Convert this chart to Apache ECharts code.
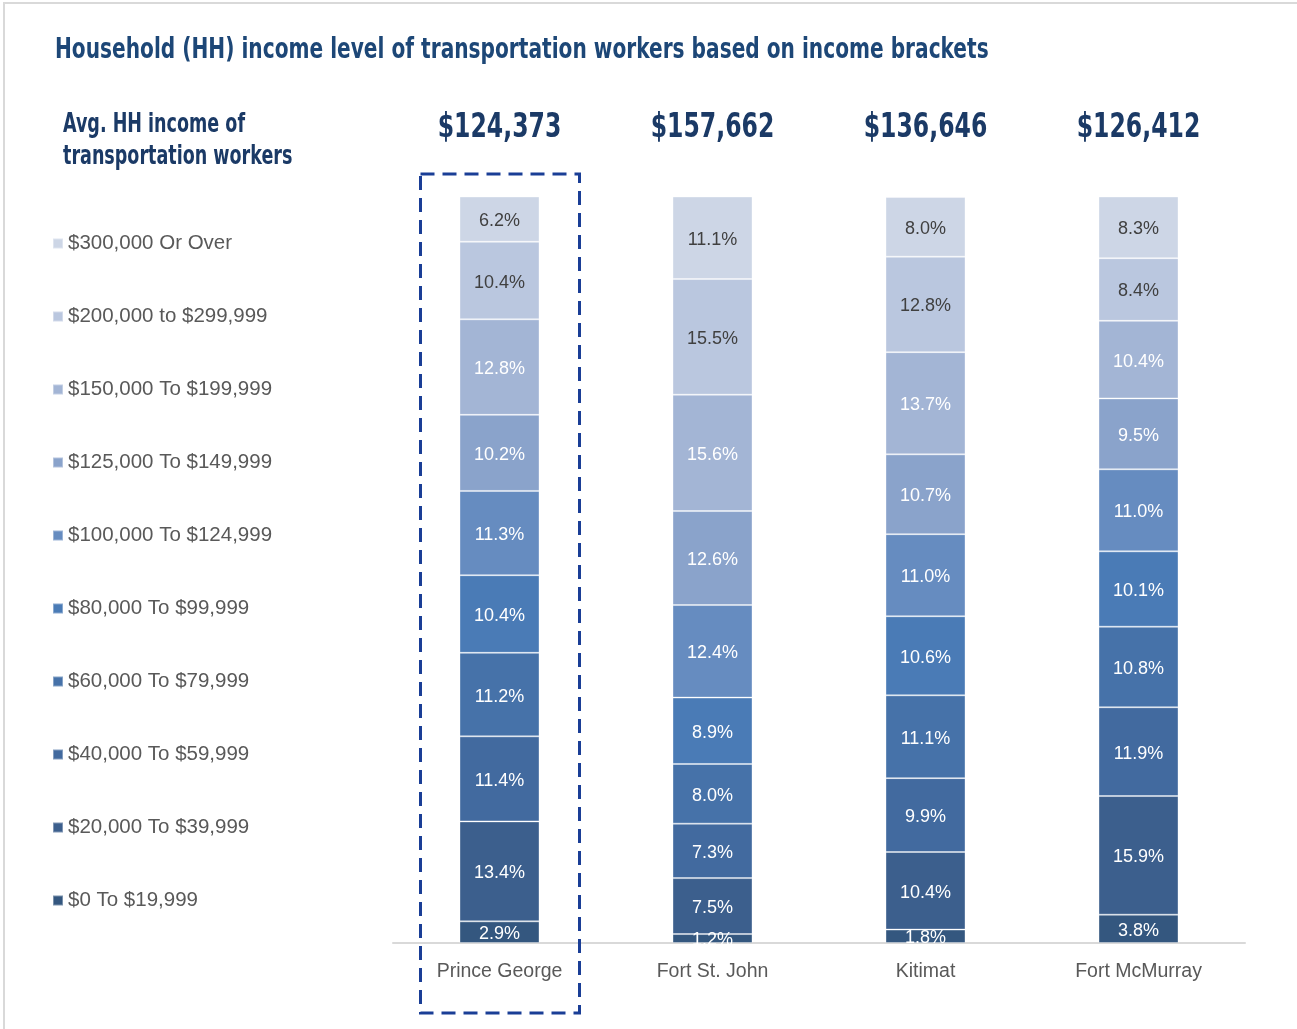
<!DOCTYPE html>
<html>
<head>
<meta charset="utf-8">
<script src="https://cdn.jsdelivr.net/npm/echarts@6/dist/echarts.min.js"></script>
<style>
  html, body { margin: 0; padding: 0; background: #fff; }
  #chart { width: 1297px; height: 1029px; }
</style>
</head>
<body>
<div id="chart"></div>
<script>
// towns along the x axis
var towns = ['Prince George', 'Fort St. John', 'Kitimat', 'Fort McMurray'];
// avg HH income shown above each bar
var avgIncome = ['$124,373', '$157,662', '$136,646', '$126,412'];

// income brackets, bottom of the stack first
var brackets = [
  '$0 To $19,999',
  '$20,000 To $39,999',
  '$40,000 To $59,999',
  '$60,000 To $79,999',
  '$80,000 To $99,999',
  '$100,000 To $124,999',
  '$125,000 To $149,999',
  '$150,000 To $199,999',
  '$200,000 to $299,999',
  '$300,000 Or Over'
];

// share (%) per bracket, order = towns
var b0   = [2.9, 1.2, 1.8, 3.8];
var b20  = [13.4, 7.5, 10.4, 15.9];
var b40  = [11.4, 7.3, 9.9, 11.9];
var b60  = [11.2, 8.0, 11.1, 10.8];
var b80  = [10.4, 8.9, 10.6, 10.1];
var b100 = [11.3, 12.4, 11.0, 11.0];
var b125 = [10.2, 12.6, 10.7, 9.5];
var b150 = [12.8, 15.6, 13.7, 10.4];
var b200 = [10.4, 15.5, 12.8, 8.4];
var b300 = [6.2, 11.1, 8.0, 8.3];

var values = [b0, b20, b40, b60, b80, b100, b125, b150, b200, b300];

var colors = ['#34577f', '#3c5f8d', '#426a9f', '#4672a9', '#4a7bb6',
              '#668cc0', '#8aa3cb', '#a3b5d5', '#bac7df', '#cdd6e6'];

var labelFont = '"Liberation Sans", Arial, sans-serif';
var condFont = '"DejaVu Sans Condensed", "DejaVu Sans", sans-serif';

var myChart = echarts.init(document.getElementById('chart'));

var series = brackets.map(function (name, i) {
  return {
    name: name,
    type: 'bar',
    stack: 'total',
    barWidth: 80,
    data: values[i],
    itemStyle: {
      color: colors[i],
      borderColor: 'rgba(255,255,255,0.35)',
      borderWidth: 1
    },
    label: {
      show: true,
      position: 'inside',
      offset: [0, 2],
      formatter: function (p) { return p.value.toFixed(1) + '%'; },
      color: i >= 8 ? '#404040' : '#ffffff',
      fontFamily: labelFont,
      fontSize: 18
    }
  };
});

var option = {
  animation: false,
  color: colors,
  legend: {
    orient: 'vertical',
    left: 47,
    top: 228,
    icon: 'rect',
    itemWidth: 10,
    itemHeight: 10,
    itemGap: 52,
    data: brackets.slice().reverse(),
    textStyle: { fontFamily: labelFont, fontSize: 20.5, color: '#595959', lineHeight: 20 },
    selectedMode: false
  },
  grid: { left: 393, right: 52, top: 197, bottom: 86 },
  xAxis: {
    type: 'category',
    data: towns,
    axisLine: { lineStyle: { color: '#d9d9d9', width: 2 } },
    axisTick: { show: false },
    axisLabel: { margin: 19, fontFamily: labelFont, fontSize: 19.5, color: '#595959' }
  },
  yAxis: {
    type: 'value',
    min: 0,
    max: 100,
    show: false
  },
  series: series
};

myChart.setOption(option);

// condensed texts (title, header, avg income over each bar), dashed box, frame border
var graphics = [
  {
    type: 'text', x: 55, y: 51, scaleX: 0.8,
    style: {
      text: 'Household (HH) income level of transportation workers based on income brackets',
      font: 'bold 28px ' + condFont, fill: '#1d4777', textVerticalAlign: 'middle'
    }
  },
  {
    type: 'text', x: 63, y: 109, scaleX: 0.75,
    style: {
      text: 'Avg. HH income of\ntransportation workers',
      font: 'bold 26px ' + condFont, fill: '#1b3a66', lineHeight: 32
    }
  },
  {
    type: 'rect',
    shape: { x: 4, y: 3, width: 1400, height: 1100 },
    style: { fill: 'none', stroke: '#d9d9d9', lineWidth: 2 },
    silent: true
  }
];
avgIncome.forEach(function (txt, i) {
  var px = myChart.convertToPixel({ xAxisIndex: 0 }, towns[i]);
  graphics.push({
    type: 'text', x: px, y: 128, scaleX: 0.77,
    style: {
      text: txt, font: 'bold 34px ' + condFont, fill: '#1b3a66',
      textAlign: 'center', textVerticalAlign: 'middle'
    }
  });
});
var cx = myChart.convertToPixel({ xAxisIndex: 0 }, towns[0]);
graphics.push({
  type: 'rect',
  shape: { x: cx - 79, y: 174, width: 159, height: 839 },
  style: { fill: 'none', stroke: '#1a3e96', lineWidth: 3, lineDash: [14, 8] },
  z: 10
});

myChart.setOption({ graphic: graphics });
</script>
</body>
</html>
